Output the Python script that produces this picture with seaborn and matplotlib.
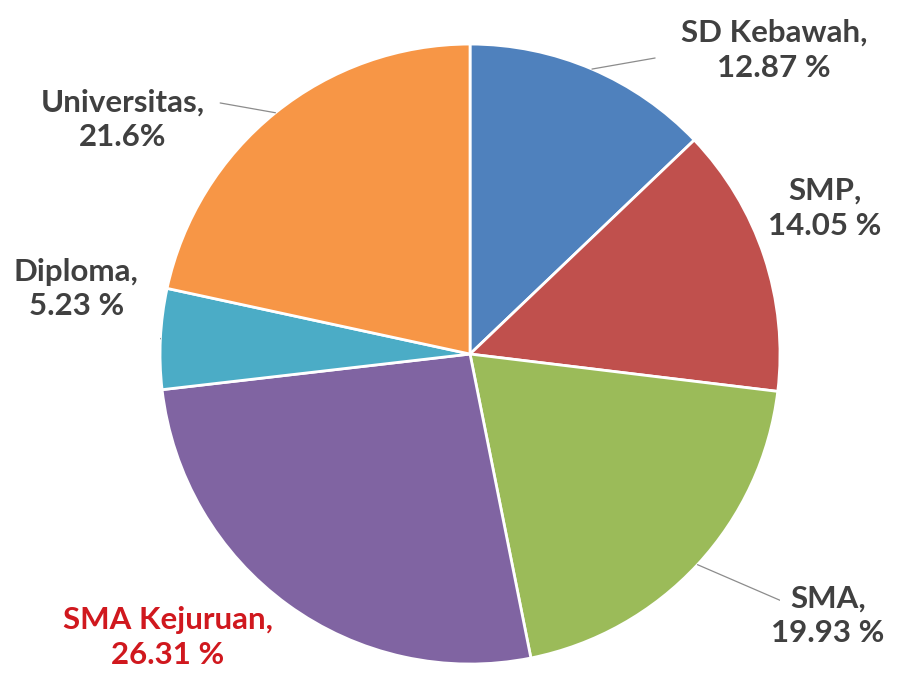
import numpy as np
import matplotlib.pyplot as plt
import seaborn as sns

# data
categories = ['SD Kebawah', 'SMP', 'SMA', 'SMA Kejuruan', 'Diploma', 'Universitas']
shares = [12.87, 14.05, 19.93, 26.31, 5.23, 21.6]
share_labels = ['12.87 %', '14.05 %', '19.93 %', '26.31 %', '5.23 %', '21.6%']

# styling / layout
COLORS = ['#4F81BD', '#C0504D', '#9BBB59', '#8064A2', '#4BACC6', '#F79646']
TEXT_COLOR = '#404040'
HIGHLIGHT_COLOR = '#D0181E'
HIGHLIGHT = 'SMA Kejuruan'
# label centres in units of pie radius
LABEL_POS = [(0.98, 0.98), (1.145, 0.47), (1.155, -0.845), (-0.975, -0.915), (-1.27, 0.21), (-1.12, 0.755)]
# end of the leader line near each label (None = no leader)
LEADER_END = [(0.597, 0.955), None, (1.013, -0.80), None, (-1.058, 0.10), (-0.806, 0.81)]

sns.set_style('white')
plt.rcParams['font.family'] = ['Lato', 'DejaVu Sans']

fig = plt.figure(figsize=(8.97, 6.81), dpi=100)
ax = fig.add_axes([0.1784, 0.0249, 0.6912, 0.9104])

wedges, _ = ax.pie(shares, colors=COLORS, startangle=90, counterclock=False, radius=1,
                   wedgeprops=dict(edgecolor='white', linewidth=2))

for wedge, name, lab, (tx, ty), end in zip(wedges, categories, share_labels, LABEL_POS, LEADER_END):
    mid = np.deg2rad((wedge.theta1 + wedge.theta2) / 2)
    color = HIGHLIGHT_COLOR if name == HIGHLIGHT else TEXT_COLOR
    ax.text(tx, ty, f'{name},\n{lab}', ha='center', va='center', multialignment='center',
            fontsize=22.5, fontweight='bold', color=color, linespacing=1.3)
    if end is not None:
        ax.plot([np.cos(mid), end[0]], [np.sin(mid), end[1]], color='#8c8c8c', lw=0.9)

ax.set_xlim(-1, 1)
ax.set_ylim(-1, 1)
ax.set_aspect('equal')
ax.axis('off')

fig.savefig('out.png', dpi=100)
